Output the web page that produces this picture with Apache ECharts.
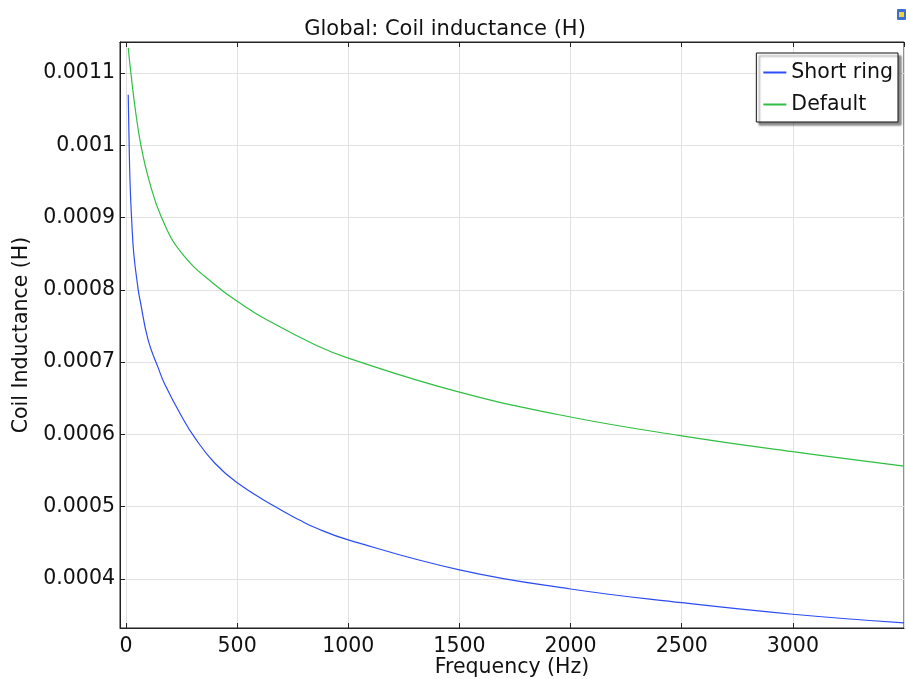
<!DOCTYPE html>
<html>
<head>
<meta charset="utf-8">
<script src="https://cdn.jsdelivr.net/npm/echarts@6/dist/echarts.min.js"></script>
<style>
html,body{margin:0;padding:0;background:#fff;}
#chart{width:906px;height:679px;}
</style>
</head>
<body>
<div id="chart"></div>
<script>
// Frequency (Hz) and coil inductance (H)
var freqShortRing = [10, 13, 18, 25, 35, 55, 63, 100, 145, 175, 250, 310, 400, 500, 670, 783, 850, 1000, 1500, 2000, 2500, 3000, 3500];
var valShortRing  = [0.00107, 0.00102, 0.00095, 0.0009, 0.00085, 0.0008, 0.000786, 0.00073, 0.000692, 0.000669, 0.000625, 0.000595, 0.00056, 0.000533, 0.0005, 0.000481, 0.000471, 0.000454, 0.0004125, 0.000386, 0.000367, 0.000351, 0.000339];
var freqDefault = [10, 22, 40, 67, 105, 160, 250, 400, 535, 625, 850, 1000, 1500, 2000, 2500, 3000, 3500];
var valDefault  = [0.001135, 0.0011, 0.001054, 0.001, 0.00095, 0.0009, 0.000851, 0.000807, 0.000777, 0.00076, 0.000724, 0.0007055, 0.0006585, 0.000624, 0.000598, 0.000576, 0.000556];
var seriesNames = ['Short ring', 'Default'];
var titleText = 'Global: Coil inductance (H)';
var xName = 'Frequency (Hz)';
var yName = 'Coil Inductance (H)';

function pairs(xs, ys) { return xs.map(function (x, i) { return [x, ys[i]]; }); }
var FONT = 'DejaVu Sans';

var chart = echarts.init(document.getElementById('chart'), null, {renderer: 'canvas'});
var fmt = function (v) { return String(parseFloat(v.toPrecision(6))); };

chart.setOption({
  animation: false,
  backgroundColor: '#ffffff',
  title: {
    text: titleText,
    left: 440, top: 14, textAlign: 'center',
    textStyle: {fontFamily: FONT, fontSize: 21, fontWeight: 'normal', color: '#111'}
  },
  legend: {
    orient: 'vertical',
    right: 8, top: 53,
    backgroundColor: '#fff',
    borderColor: '#111', borderWidth: 1,
    padding: [9, 5, 7, 7],
    itemGap: 11,
    itemWidth: 23, itemHeight: 2,
    icon: 'rect',
    shadowColor: 'rgba(0,0,0,0.45)', shadowBlur: 2, shadowOffsetX: 3, shadowOffsetY: 3,
    textStyle: {fontFamily: FONT, fontSize: 20.5, color: '#111'},
    data: seriesNames
  },
  grid: {left: 120, top: 42, right: 2, bottom: 51, show: true, borderColor: '#222', borderWidth: 1, containLabel: false, outerBoundsMode: 'none'},
  xAxis: [{
    type: 'value', min: -27, max: 3500, splitNumber: 7,
    name: xName, nameLocation: 'middle', nameGap: 29, nameMoveOverlap: false,
    nameTextStyle: {fontFamily: FONT, fontSize: 20.5, color: '#111'},
    axisLine: {show: true, onZero: false, lineStyle: {color: '#222'}},
    axisTick: {show: true, inside: true, length: 5, lineStyle: {color: '#222'}},
    axisLabel: {fontFamily: FONT, fontSize: 20.5, color: '#111', margin: 8, showMinLabel: false, showMaxLabel: false, formatter: fmt},
    splitLine: {show: true, lineStyle: {color: '#e2e2e2'}}
  }, {
    type: 'value', position: 'top', min: -27, max: 3500, splitNumber: 7,
    axisLine: {show: true, onZero: false, lineStyle: {color: '#222'}},
    axisTick: {show: true, inside: true, length: 5, lineStyle: {color: '#222'}},
    axisLabel: {show: false}, splitLine: {show: false}
  }],
  yAxis: [{
    type: 'value', min: 0.000332, max: 0.001143, splitNumber: 8,
    name: yName, nameLocation: 'middle', nameGap: 88, nameMoveOverlap: false,
    nameTextStyle: {fontFamily: FONT, fontSize: 20.5, color: '#111'},
    axisLine: {show: true, onZero: false, lineStyle: {color: '#222'}},
    axisTick: {show: true, inside: true, length: 5, lineStyle: {color: '#222'}},
    axisLabel: {fontFamily: FONT, fontSize: 20.5, color: '#111', margin: 5, showMinLabel: false, showMaxLabel: false, formatter: fmt},
    splitLine: {show: true, lineStyle: {color: '#e2e2e2'}}
  }],
  series: [{
    name: seriesNames[0], type: 'line', data: pairs(freqShortRing, valShortRing),
    showSymbol: false, smooth: 0.45,
    lineStyle: {color: '#2c4cf5', width: 1.2}, itemStyle: {color: '#2c4cf5'}
  }, {
    name: seriesNames[1], type: 'line', data: pairs(freqDefault, valDefault),
    showSymbol: false, smooth: 0.45,
    lineStyle: {color: '#2fbf42', width: 1.2}, itemStyle: {color: '#2fbf42'}
  }],
  graphic: [{
    type: 'group', left: 897, top: 9,
    children: [
      {type: 'rect', shape: {x: 0, y: 0, width: 9, height: 11, r: 1}, style: {fill: '#3b6fd1'}},
      {type: 'rect', shape: {x: 2, y: 3, width: 5, height: 5}, style: {fill: '#f2d23c'}}
    ]
  }]
});
</script>
</body>
</html>
